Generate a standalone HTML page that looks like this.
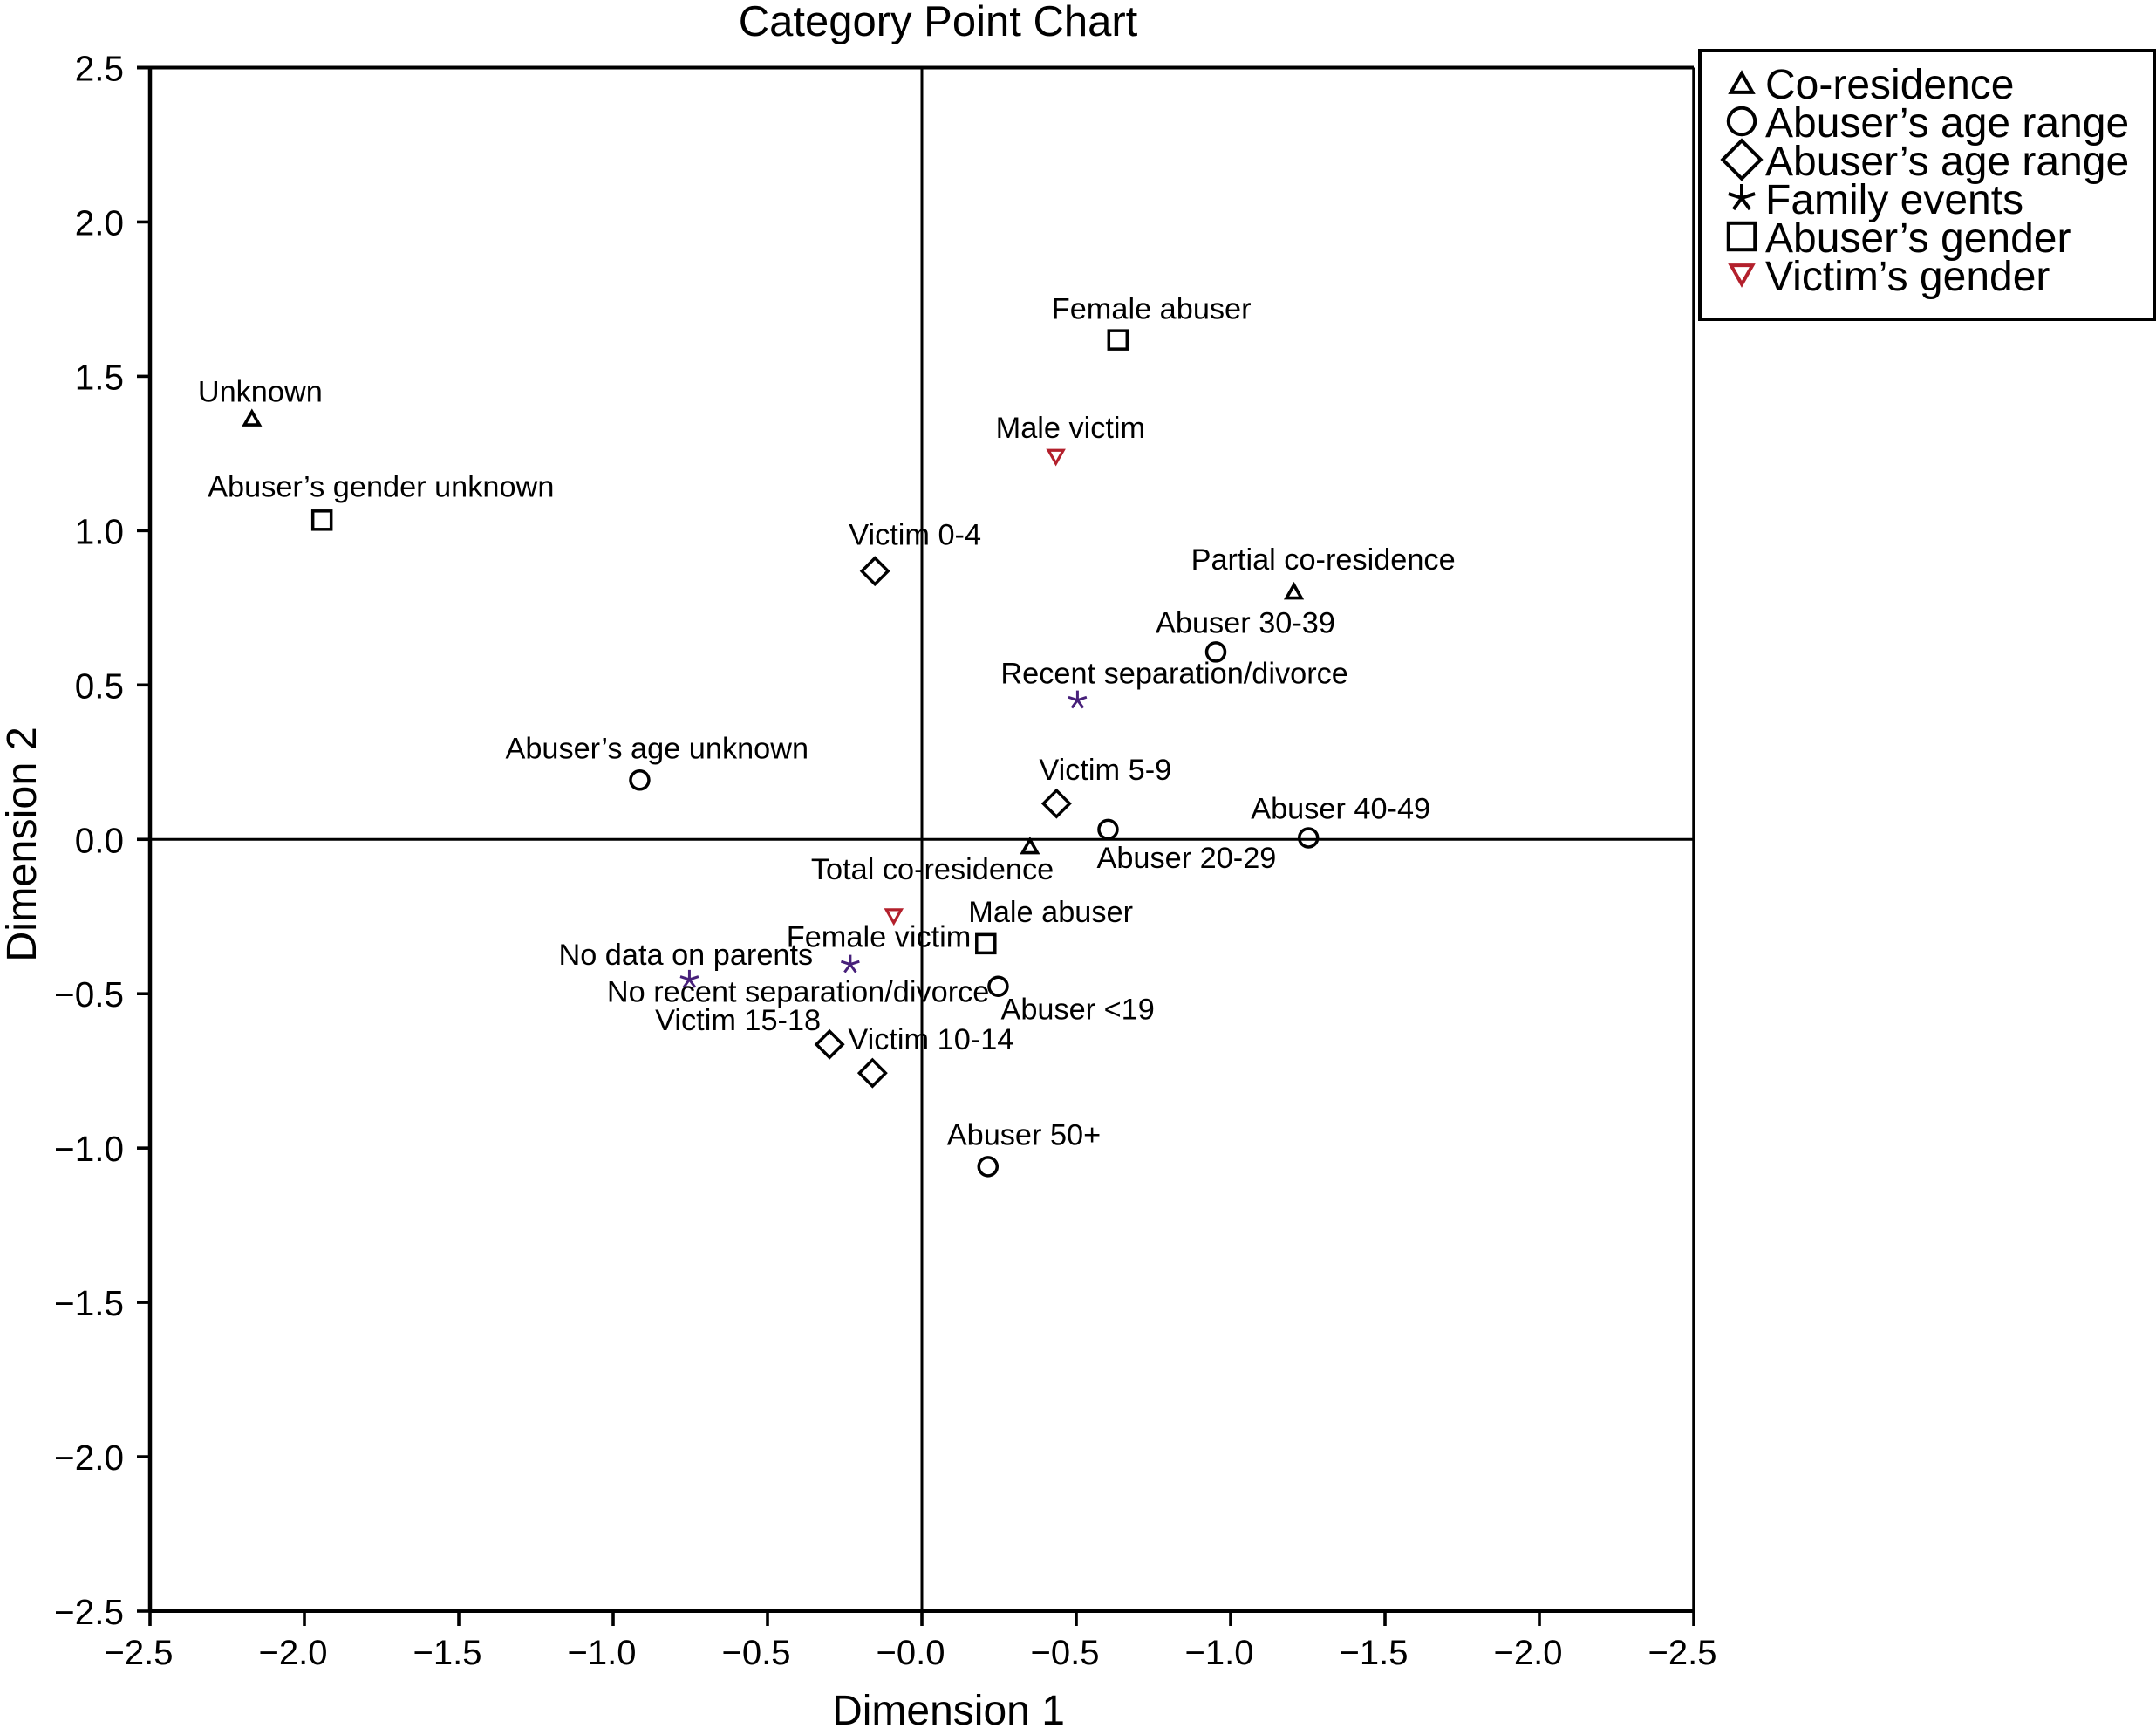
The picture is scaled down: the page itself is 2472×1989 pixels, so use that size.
<!DOCTYPE html>
<html lang="en">
<head>
<meta charset="utf-8">
<title>Category Point Chart</title>
<style>
html,body{margin:0;padding:0;background:#fff;width:2472px;height:1989px;overflow:hidden}
svg{display:block}
text{font-family:"Liberation Sans",Arial,sans-serif;fill:#000}
</style>
</head>
<body>
<svg id="chart" xmlns="http://www.w3.org/2000/svg" width="2472" height="1989" viewBox="0 0 2472 1989">
  <rect x="0" y="0" width="2472" height="1989" fill="#fff"/>
  <text x="1075.5" y="41" font-size="49" text-anchor="middle">Category Point Chart</text>
  <text x="1087.5" y="1977" font-size="48" text-anchor="middle">Dimension 1</text>
  <text x="0" y="0" font-size="48.5" text-anchor="middle" transform="translate(41 968) rotate(-90)">Dimension 2</text>
  <g id="axes"></g>
  <g id="marks"></g>
  <g id="legend">
    <rect x="1949" y="58" width="521" height="308" fill="#fff" stroke="#000" stroke-width="4"/>
  </g>
</svg>
<script>
// ---- axis data ----
const xTickValues = [-2.5, -2, -1.5, -1, -0.5, 0, 0.5, 1, 1.5, 2, 2.5];
const xTickLabels = ['−2.5', '−2.0', '−1.5', '−1.0', '−0.5', '−0.0', '−0.5', '−1.0', '−1.5', '−2.0', '−2.5'];
const yTickValues = [2.5, 2, 1.5, 1, 0.5, 0, -0.5, -1, -1.5, -2, -2.5];
const yTickLabels = ['2.5', '2.0', '1.5', '1.0', '0.5', '0.0', '−0.5', '−1.0', '−1.5', '−2.0', '−2.5'];

// ---- series data ----
const coResidenceNames = ['Unknown', 'Partial co-residence', 'Total co-residence'];
const coResidenceX = [-2.170, 1.205, 0.350];
const coResidenceY = [1.364, 0.803, -0.022];

const abuserAgeNames = ['Abuser 30-39', 'Abuser 40-49', 'Abuser 20-29', 'Abuser’s age unknown', 'Abuser <19', 'Abuser 50+'];
const abuserAgeX = [0.952, 1.252, 0.603, -0.914, 0.247, 0.214];
const abuserAgeY = [0.607, 0.005, 0.032, 0.192, -0.476, -1.060];

const victimAgeNames = ['Victim 0-4', 'Victim 5-9', 'Victim 15-18', 'Victim 10-14'];
const victimAgeX = [-0.152, 0.436, -0.299, -0.160];
const victimAgeY = [0.869, 0.116, -0.664, -0.757];

const familyEventNames = ['Recent separation/divorce', 'No data on parents', 'No recent separation/divorce'];
const familyEventX = [0.504, -0.753, -0.232];
const familyEventY = [0.451, -0.454, -0.405];

const abuserGenderNames = ['Female abuser', 'Abuser’s gender unknown', 'Male abuser'];
const abuserGenderX = [0.635, -1.943, 0.207];
const abuserGenderY = [1.618, 1.034, -0.338];

const victimGenderNames = ['Male victim', 'Female victim'];
const victimGenderX = [0.434, -0.091];
const victimGenderY = [1.239, -0.249];

const legendLabels = ['Co-residence', 'Abuser’s age range', 'Abuser’s age range', 'Family events', 'Abuser’s gender', 'Victim’s gender'];
const legendShapes = ['triangle', 'circle', 'diamond', 'star', 'square', 'triangleDown'];
const legendColors = ['#000', '#000', '#000', '#000', '#000', '#b3202c'];

// ---- layout (not data) ----
const plot = {left: 172, right: 1942, top: 77.5, bottom: 1847};
const domain = {min: -2.5, max: 2.5};
const labelNudges = {
  'Unknown': [-62, -19], 'Partial co-residence': [-118, -25], 'Total co-residence': [-251, 38],
  'Abuser 30-39': [-69, -22], 'Abuser 40-49': [-66, -22], 'Abuser 20-29': [-13, 44],
  'Abuser’s age unknown': [-154, -25], 'Abuser <19': [3, 38], 'Abuser 50+': [-47, -25],
  'Victim 0-4': [-30, -30], 'Victim 5-9': [-20, -27], 'Victim 15-18': [-200, -16], 'Victim 10-14': [-28, -27],
  'Recent separation/divorce': [-88, -19], 'No data on parents': [-150, -17], 'No recent separation/divorce': [-279, 43],
  'Female abuser': [-76, -24], 'Abuser’s gender unknown': [-131, -27], 'Male abuser': [-20, -25],
  'Male victim': [-69, -22], 'Female victim': [-123, 35]
};

const NS = 'http://www.w3.org/2000/svg';
const xScale = v => plot.left + (v - domain.min) / (domain.max - domain.min) * (plot.right - plot.left);
const yScale = v => plot.bottom - (v - domain.min) / (domain.max - domain.min) * (plot.bottom - plot.top);

function make(tag, attrs, parent) {
  const el = document.createElementNS(NS, tag);
  for (const k in attrs) el.setAttribute(k, attrs[k]);
  parent.appendChild(el);
  return el;
}

function slug(s) {
  return s.toLowerCase().replace(/[’']/g, '').replace('<', 'under-').replace('+', '-plus').replace(/[^a-z0-9-]+/g, '-');
}

function drawLine(parent, x1, y1, x2, y2, w) {
  return make('line', {x1: x1, y1: y1, x2: x2, y2: y2, stroke: '#000', 'stroke-width': w}, parent);
}

function drawMarker(parent, shape, cx, cy, s, color, sw) {
  const base = {fill: 'none', stroke: color, 'stroke-width': sw, 'stroke-linejoin': 'miter'};
  if (shape === 'circle') {
    return make('circle', Object.assign({cx: cx, cy: cy, r: 10.5 * s}, base), parent);
  }
  if (shape === 'square') {
    return make('rect', Object.assign({x: cx - 10.5 * s, y: cy - 10.5 * s, width: 21 * s, height: 21 * s}, base), parent);
  }
  if (shape === 'diamond') {
    const d = 15 * s;
    return make('polygon', Object.assign({points: [cx, cy - d, cx + d, cy, cx, cy + d, cx - d, cy].join(' ')}, base), parent);
  }
  if (shape === 'triangle') {
    const w = 8.5 * s, h = 7.5 * s;
    return make('polygon', Object.assign({points: [cx, cy - h, cx + w, cy + h, cx - w, cy + h].join(' ')}, base), parent);
  }
  if (shape === 'triangleDown') {
    const w = 8.5 * s, h = 7.5 * s;
    return make('polygon', Object.assign({points: [cx, cy + h, cx + w, cy - h, cx - w, cy - h].join(' ')}, base), parent);
  }
  // star: five open arms
  const r = 11 * s;
  let d = '';
  for (let i = 0; i < 5; i++) {
    const a = -Math.PI / 2 + i * 2 * Math.PI / 5;
    d += 'M' + cx + ' ' + cy + 'L' + (cx + r * Math.cos(a)).toFixed(2) + ' ' + (cy + r * Math.sin(a)).toFixed(2);
  }
  return make('path', Object.assign({d: d}, base), parent);
}

// ---- axes ----
const axes = document.getElementById('axes');
const frameTop = drawLine(axes, plot.left - 15, plot.top, plot.right, plot.top, 4);


const frameBottom = drawLine(axes, plot.left, plot.bottom, plot.right, plot.bottom, 4);


const frameLeft = drawLine(axes, plot.left, plot.top, plot.left, plot.bottom, 4.5);


const frameRight = drawLine(axes, plot.right, plot.top, plot.right, plot.bottom, 3.5);


const zeroV = drawLine(axes, xScale(0), plot.top, xScale(0), plot.bottom, 3);


const zeroH = drawLine(axes, plot.left, yScale(0), plot.right, yScale(0), 3);



xTickValues.forEach((v, i) => {
  const tick = drawLine(axes, xScale(v), plot.bottom, xScale(v), plot.bottom + 17, 3.6);
  
  
  const label = make('text', {x: xScale(v) - 13, y: 1908, 'font-size': 40, 'text-anchor': 'middle'}, axes);
  label.textContent = xTickLabels[i];
  
  
});

yTickValues.forEach((v, i) => {
  const tick = drawLine(axes, plot.left - 15, yScale(v), plot.left, yScale(v), 3.6);
  
  
  const label = make('text', {x: 142, y: yScale(v) + 15, 'font-size': 40.5, 'text-anchor': 'end'}, axes);
  label.textContent = yTickLabels[i];
  
  
});

// ---- marks ----
const marks = document.getElementById('marks');
function drawSeries(names, xs, ys, shape, color, sw) {
  names.forEach((name, i) => {
    const px = xScale(xs[i]);
    const py = yScale(ys[i]);
    const mark = drawMarker(marks, shape, px, py, 1, color, sw);
    
    
    const nudge = labelNudges[name];
    const label = make('text', {x: px + nudge[0], y: py + nudge[1], 'font-size': 34.3}, marks);
    label.textContent = name;
    
    
  });
}
drawSeries(coResidenceNames, coResidenceX, coResidenceY, 'triangle', '#000', 3.6);
drawSeries(abuserAgeNames, abuserAgeX, abuserAgeY, 'circle', '#000', 3.5);
drawSeries(victimAgeNames, victimAgeX, victimAgeY, 'diamond', '#000', 3.5);
drawSeries(familyEventNames, familyEventX, familyEventY, 'star', '#47207a', 3);
drawSeries(abuserGenderNames, abuserGenderX, abuserGenderY, 'square', '#000', 3.5);
drawSeries(victimGenderNames, victimGenderX, victimGenderY, 'triangleDown', '#b3202c', 3.2);

// ---- legend ----
const legend = document.getElementById('legend');
legendLabels.forEach((name, i) => {
  const base = 113 + 44 * i;
  const sym = drawMarker(legend, legendShapes[i], 1997, base - 18, 1.45, legendColors[i], 4);
  
  
  const label = make('text', {x: 2024, y: base, 'font-size': 48}, legend);
  label.textContent = name;
  
  
});
</script>
</body>
</html>
